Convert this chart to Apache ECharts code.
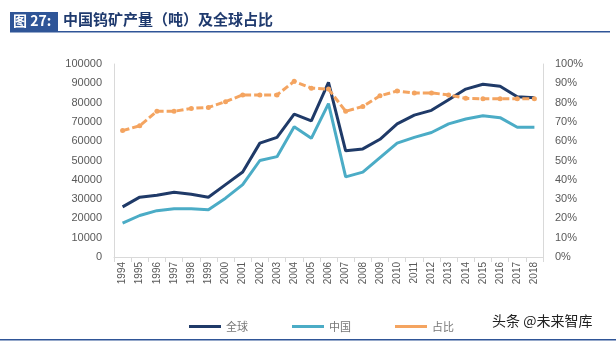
<!DOCTYPE html>
<html><head><meta charset="utf-8">
<script src="https://cdn.jsdelivr.net/npm/echarts@6/dist/echarts.min.js"></script>
<style>html,body{margin:0;padding:0;background:#fff;}#c{width:616px;height:345px;}</style>
</head><body><div id="c"></div>
<script>
const years = ['1994','1995','1996','1997','1998','1999','2000','2001','2002','2003','2004','2005','2006','2007','2008','2009','2010','2011','2012','2013','2014','2015','2016','2017','2018'];
const globalProd = [26000,31000,32000,33500,32500,31000,37500,44000,59000,62000,74000,70500,90500,55000,56000,61000,69000,73500,76000,81500,87000,89500,88500,83000,82500];
const chinaProd = [17500,21500,24000,25000,25000,24500,30500,37500,50000,52000,67500,61500,79500,41500,44000,51500,59000,62000,64500,69000,71500,73200,72200,67200,67200];
const shareVals = [65.5,68,75.5,75.5,77,77.5,80.5,84,84,84,91,87.5,87,75.5,78,83.5,86,85,85,84,82.2,82,82,82,82];
const leftTicks = [0,100000,10000];
const rightTicks = [0,100,10];

const chart = echarts.init(document.getElementById('c'));
const gray = '#595959';
chart.setOption({
  animation:false,
  textStyle:{fontFamily:'Liberation Sans, Arial, sans-serif'},
  graphic:[
    {type:'rect',shape:{x:10,y:12,width:48,height:19},style:{fill:'#2F5597'}},
    {type:'text',left:13,top:14,style:{text:'图 27:',fill:'#fff',font:'bold 14px "Noto Sans CJK SC", sans-serif'}},
    {type:'text',left:63,top:12,style:{text:'中国钨矿产量（吨）及全球占比',fill:'#1F3A6E',font:'bold 15px "Noto Sans CJK SC", sans-serif'}},
    {type:'rect',shape:{x:10,y:31,width:600,height:1.5},style:{fill:'#2F5597'}},
    {type:'rect',shape:{x:0,y:339,width:616,height:1.5},style:{fill:'#2F5597'}},
    {type:'text',left:492,top:314,style:{text:'头条 @未来智库',fill:'#222',font:'14px "Noto Sans CJK SC", sans-serif'}}
  ],
  legend:{
    top:316,left:184,itemGap:44,itemWidth:32,itemHeight:3,
    textStyle:{fontSize:11,color:'#777',fontFamily:'"Noto Sans CJK SC", sans-serif'},
    data:[{name:'全球',icon:'rect'},{name:'中国',icon:'rect'},{name:'占比',icon:'rect'}]
  },
  grid:{left:114,right:73,top:64,bottom:88},
  xAxis:{type:'category',data:years,boundaryGap:true,
    axisLine:{lineStyle:{color:'#D9D9D9'}},
    axisTick:{show:true,lineStyle:{color:'#D9D9D9'}},
    axisLabel:{rotate:90,color:gray,fontSize:10,interval:0,margin:5}},
  yAxis:[
    {type:'value',min:leftTicks[0],max:leftTicks[1],interval:leftTicks[2],
     axisLine:{show:true,lineStyle:{color:'#D9D9D9'}},axisTick:{show:false},
     splitLine:{show:false},axisLabel:{color:gray,fontSize:11,margin:12,formatter:function(v){return String(v);}}},
    {type:'value',min:rightTicks[0],max:rightTicks[1],interval:rightTicks[2],
     axisLine:{show:true,lineStyle:{color:'#D9D9D9'}},axisTick:{show:false},
     splitLine:{show:false},axisLabel:{color:gray,fontSize:11,margin:12,formatter:'{value}%'}}
  ],
  series:[
    {name:'全球',type:'line',data:globalProd,symbol:'none',itemStyle:{color:'#1F3A68'},lineStyle:{width:3,color:'#1F3A68'}},
    {name:'中国',type:'line',data:chinaProd,symbol:'none',itemStyle:{color:'#4BACC6'},lineStyle:{width:3,color:'#4BACC6'}},
    {name:'占比',type:'line',yAxisIndex:1,data:shareVals,symbol:'circle',symbolSize:5,
     itemStyle:{color:'#F4A460'},lineStyle:{width:3,color:'#F4A460',type:[7,3]}}
  ]
});
</script></body></html>
